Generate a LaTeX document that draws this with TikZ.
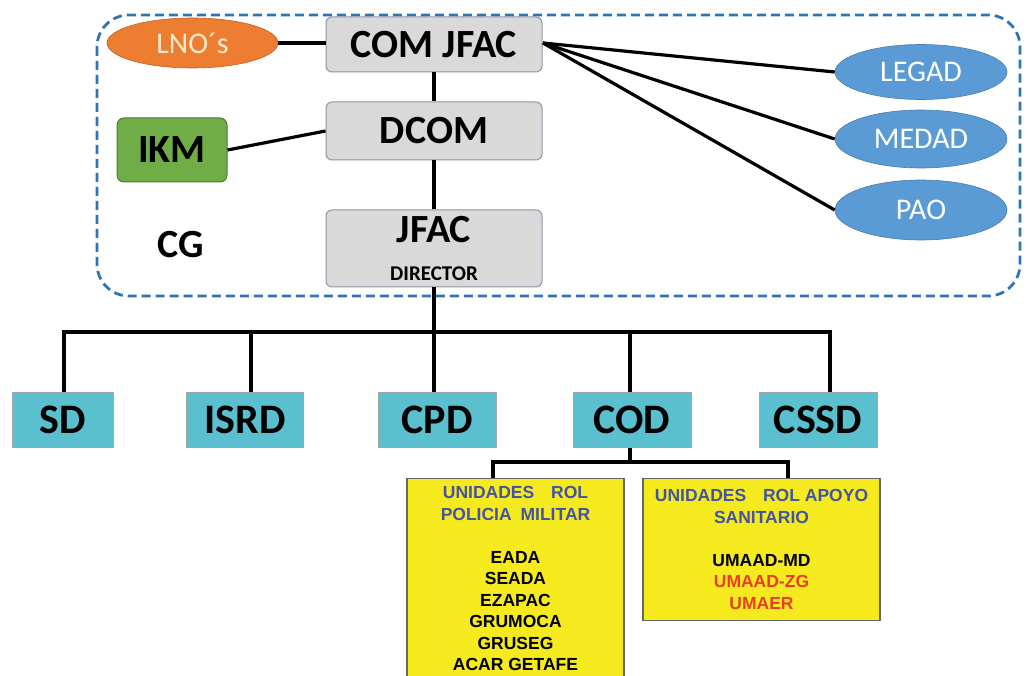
\documentclass[tikz,border=0pt]{standalone}
\usepackage{fontspec}
\setmainfont{Carlito}
\newfontfamily\arialf{Liberation Sans}
\usetikzlibrary{shapes.geometric}
\definecolor{dashblue}{RGB}{46,117,182}
\definecolor{boxgray}{RGB}{217,217,217}
\definecolor{boxedge}{RGB}{140,150,165}
\definecolor{lnoorange}{RGB}{237,125,49}
\definecolor{lnotext}{RGB}{255,235,205}
\definecolor{ikmgreen}{RGB}{112,173,71}
\definecolor{ellblue}{RGB}{91,155,213}
\definecolor{tealbox}{RGB}{90,192,208}
\definecolor{yellowbox}{RGB}{245,234,30}
\definecolor{headblue}{RGB}{68,84,160}
\definecolor{redtext}{RGB}{232,62,40}
\tikzset{
  graybox/.style={draw=boxedge, line width=1pt, fill=boxgray, rounded corners=6pt,
    minimum width=216pt, inner sep=0pt, font=\fontsize{40}{42}\selectfont\bfseries},
  ellnode/.style={ellipse, draw=ellblue!80!black, line width=0.6pt, fill=ellblue, text=white,
    inner sep=0pt, font=\fontsize{30}{32}\selectfont},
  tealnode/.style={draw=gray!70, line width=1pt, fill=tealbox, minimum height=55pt,
    inner sep=0pt, font=\fontsize{42}{44}\selectfont\bfseries},
  yellownode/.style={draw=gray!80!black, line width=1.2pt, fill=yellowbox, align=center,
    font=\arialf\fontsize{17.5}{21.5}\selectfont\bfseries},
  conn/.style={line width=3.2pt, black},
}
\begin{document}
\begin{tikzpicture}[x=1pt,y=-1pt]
\useasboundingbox (0,0) rectangle (1028,676);
\clip (0,0) rectangle (1028,676);
% dashed group
\draw[dashblue, line width=2.8pt, dash pattern=on 9pt off 5pt, rounded corners=32pt]
  (97,15) rectangle (1020,296);
% central column
\node[graybox, minimum height=55pt] (comjfac) at (434,44.5) {COM JFAC};
\node[graybox, minimum height=58pt] (dcom) at (434,131) {DCOM};
\node[graybox, minimum height=77pt, align=center] (jfac) at (434,248.5)
  {JFAC\\[-4pt]{\fontsize{21}{22}\selectfont DIRECTOR}};
% left
\node[ellipse, fill=lnoorange, draw=lnoorange!80!black, line width=0.6pt, text=lnotext,
  minimum width=171pt, minimum height=50pt, inner sep=0pt,
  font=\fontsize{30}{32}\selectfont] (lno) at (192.5,43) {LNO´s};
\node[draw=ikmgreen!70!black, line width=1pt, fill=ikmgreen, rounded corners=7pt,
  minimum width=110pt, minimum height=64pt, inner sep=0pt,
  font=\fontsize{40}{42}\selectfont\bfseries] (ikm) at (172,150) {IKM};
\node[font=\fontsize{40}{42}\selectfont\bfseries] (cg) at (181,245) {CG};
% right ellipses
\node[ellnode, minimum width=172pt, minimum height=55pt] (legad) at (921,72) {LEGAD};
\node[ellnode, minimum width=172pt, minimum height=58pt] (medad) at (921,139) {MEDAD};
\node[ellnode, minimum width=172pt, minimum height=60pt] (pao) at (921,210) {PAO};
% connectors top
\coordinate (hub) at (543,43);
\draw[conn] (lno.east) -- (comjfac.west |- lno.east);
\draw[conn] (ikm.east) -- (dcom.west);
\draw[conn] (comjfac.south) -- (dcom.north);
\draw[conn] (dcom.south) -- (jfac.north);
\draw[conn] (hub) -- (legad.west);
\draw[conn] (hub) -- (medad.west);
\draw[conn] (hub) -- (pao.west);
% bottom row
\node[tealnode, minimum width=101pt] (sd) at (63,419.5) {SD};
\node[tealnode, minimum width=117pt] (isrd) at (245,419.5) {ISRD};
\node[tealnode, minimum width=118pt] (cpd) at (437,419.5) {CPD};
\node[tealnode, minimum width=118pt] (cod) at (632,419.5) {COD};
\node[tealnode, minimum width=118pt] (cssd) at (818,419.5) {CSSD};
\coordinate (b1) at (64,332);
\coordinate (b2) at (251,332);
\coordinate (b3) at (434,332);
\coordinate (b4) at (630,332);
\coordinate (b5) at (830,332);
\draw[conn] (jfac.south) -- (b3);
\draw[conn, line cap=rect] (b1) -- (b5);
\draw[conn] (b1) -- (b1 |- sd.north);
\draw[conn] (b2) -- (b2 |- isrd.north);
\draw[conn] (b3) -- (b3 |- cpd.north);
\draw[conn] (b4) -- (b4 |- cod.north);
\draw[conn] (b5) -- (b5 |- cssd.north);
% yellow boxes
\node[yellownode, anchor=north, minimum width=217pt, inner xsep=0pt, inner ysep=8pt] (pm) at (515.5,478)
  {{\color{headblue}UNIDADES\hspace{12pt} ROL}\\
   {\color{headblue}POLICIA\hspace{4pt} MILITAR}\\[21.5pt]
   EADA\\ SEADA\\ EZAPAC\\ GRUMOCA\\ GRUSEG\\ ACAR GETAFE\\[20pt]\mbox{}};
\node[yellownode, anchor=north, minimum width=237pt, minimum height=142pt, inner xsep=0pt] (san) at (761.5,478)
  {{\color{headblue}UNIDADES\hspace{12pt} ROL APOYO}\\
   {\color{headblue}SANITARIO}\\[21.5pt]
   UMAAD-MD\\ {\color{redtext}UMAAD-ZG}\\ {\color{redtext}UMAER}};
\coordinate (c0) at (630,462);
\coordinate (c1) at (493,462);
\coordinate (c2) at (788,462);
\draw[conn] (cod.south -| c0) -- (c0);
\draw[conn, line cap=rect] (c1) -- (c2);
\draw[conn] (c1) -- (c1 |- pm.north);
\draw[conn] (c2) -- (c2 |- san.north);
\end{tikzpicture}
\end{document}
